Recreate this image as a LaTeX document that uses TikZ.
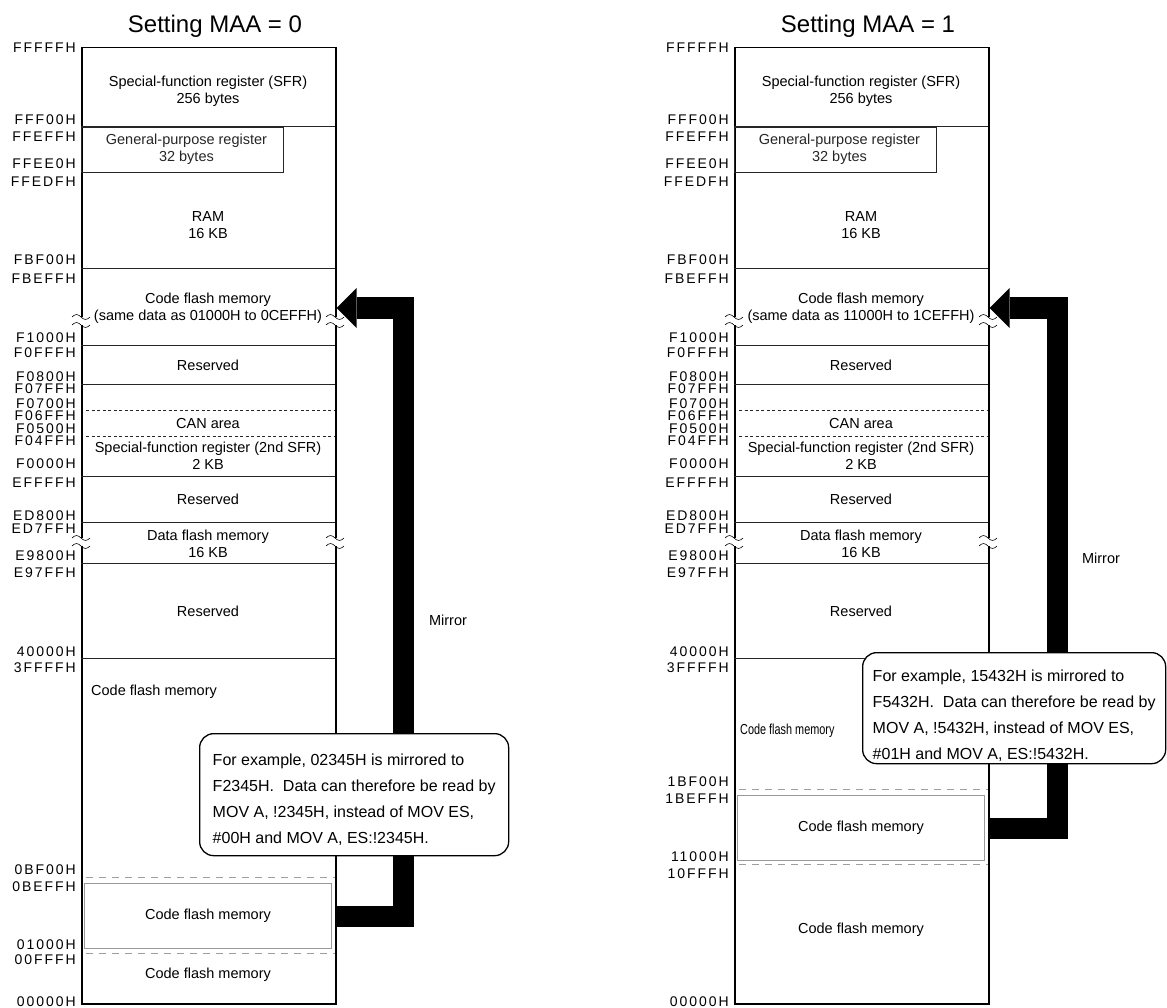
\documentclass[tikz,border=0pt]{standalone}
\usepackage{fontspec}
\setmainfont{Liberation Sans}
\newfontfamily\addrfont[LetterSpace=14]{Liberation Sans} % spaced address digits
\newfontfamily\narrowfont[FakeStretch=0.75]{Liberation Sans} % squeezed label
\usetikzlibrary{arrows.meta}

\begin{document}
\begin{tikzpicture}[x=1pt,y=-1pt]
\tikzstyle{memtxt}=[font=\fontsize{14.5}{17}\selectfont, align=center, inner sep=0pt] % text inside the map
\tikzstyle{addr}=[font=\addrfont\fontsize{14}{14}\selectfont, anchor=east, inner sep=0pt] % addresses left of the map
\tikzstyle{divider}=[black!85, line width=0.9pt] % border between two areas
\tikzstyle{candash}=[black!85, line width=0.8pt, dash pattern=on 3pt off 2.5pt]
\tikzstyle{graydash}=[gray!75, line width=1pt, dash pattern=on 7pt off 6pt]
\tikzstyle{mirrorarrow}=[line width=21pt, line join=miter, -{Triangle[length=20pt, width=40pt, line width=0pt]}]
\tikzstyle{note}=[draw, line width=1.3pt, rounded corners=14pt, fill=white, align=left, inner sep=0pt, font=\fontsize{16}{26}\selectfont, anchor=north west]
\tikzset{brk/.pic={ % break marks on the border
  \fill[white] (-2,-4) rectangle (2,4);
  \draw[line width=0.6pt] (-9,-4) sin (-4.5,-6.5) cos (0,-4) sin (4.5,-1.5) cos (9,-4);
  \draw[line width=0.6pt] (-9,4) sin (-4.5,1.5) cos (0,4) sin (4.5,6.5) cos (9,4);
}}

\useasboundingbox (0,0) rectangle (1167,1008);

% both maps share the upper part
\foreach \s/\dx/\maa/\src in {L/0/0/01000H to 0CEFFH, R/653/1/11000H to 1CEFFH} {
\begin{scope}[xshift=\dx]
\node[font=\fontsize{24}{28}\selectfont, inner sep=0pt] (ttl\s) at (215,26) {Setting MAA = \maa};
\node[draw, line width=1.5pt, minimum width=254, minimum height=956, inner sep=0pt, anchor=north west] (map\s) at (81,47) {};
\foreach \y in {126.7,268,345,384,476.7,522.7,563,658}
  \draw[divider] (81,\y) -- (335,\y);
\draw[candash] (86,410) -- (335,410);
\draw[candash] (86,436) -- (335,436);
\node[draw, divider, memtxt, minimum width=202, minimum height=45, anchor=north west] (gpr\s) at (81,126.7) {\hspace*{8pt}General-purpose register\\\hspace*{8pt}32 bytes};
\node[memtxt] (sfr\s) at (208,91.5) {Special-function register (SFR)\\256 bytes};
\node[memtxt] (ram\s) at (208,225.5) {RAM\\16 KB};
\node[memtxt] (cfm\s) at (208,308) {Code flash memory\\(same data as \src)};
\node[memtxt] (res1\s) at (208,365) {Reserved};
\node[memtxt] (can\s) at (208,424) {CAN area};
\node[memtxt] (sfr2\s) at (208,456) {Special-function register (2nd SFR)\\2 KB};
\node[memtxt] (res2\s) at (208,499) {Reserved};
\node[memtxt] (dfm\s) at (208,543.5) {Data flash memory\\16 KB};
\node[memtxt] (res3\s) at (208,611) {Reserved};
\pic at (81,321) {brk};
\pic at (335,321) {brk};
\pic at (81,542) {brk};
\pic at (335,542) {brk};
\foreach \a/\y in {FFFFFH/48, FFF00H/120, FFEFFH/137, FFEE0H/164, FFEDFH/182, FBF00H/260, FBEFFH/279,
    F1000H/338, F0FFFH/353, F0800H/377, F07FFH/389, F0700H/404, F06FFH/416, F0500H/429, F04FFH/441,
    F0000H/464, EFFFFH/483, ED800H/516, ED7FFH/529, E9800H/556, E97FFH/573, 40000H/652, 3FFFFH/668, 00000H/1002}
  \node[addr] (\a\s) at (76,\y) {\a};
\end{scope}
}

% MAA = 0
\draw[graydash] (86,877) -- (335,877);
\draw[graydash] (86,953) -- (335,953);
\node[draw=gray!80, line width=1pt, memtxt, minimum width=247, minimum height=65, anchor=north west] (cfmirL) at (84,883) {Code flash memory};
\node[memtxt, anchor=west] (cflL) at (91,692) {Code flash memory};
\node[memtxt] (cfbL) at (208,975) {Code flash memory};
\foreach \a/\y in {0BF00H/870, 0BEFFH/887, 01000H/945, 00FFFH/960}
  \node[addr] (\a L) at (76,\y) {\a};

% MAA = 1
\draw[graydash] (739,789) -- (988,789);
\draw[graydash] (739,864) -- (988,864);
\node[draw=gray!80, line width=1pt, memtxt, minimum width=247, minimum height=65, anchor=north west] (cfmirR) at (737,795) {Code flash memory};
\node[memtxt, font=\narrowfont\fontsize{14.5}{17}\selectfont, anchor=west] (cflR) at (740,731) {Code flash memory};
\node[memtxt] (cfbR) at (861,930) {Code flash memory};
\foreach \a/\y in {1BF00H/782, 1BEFFH/799, 11000H/857, 10FFFH/874}
  \node[addr] (\a R) at (729,\y) {\a};

% mirror arrows
\draw[mirrorarrow] (cfmirL.east -| mapL.east) -- ++(66.5,0) |- (cfmL -| mapL.east);
\draw[mirrorarrow] (cfmirR.east -| mapR.east) -- ++(67.5,0) |- (cfmR -| mapR.east);
\node[memtxt] (mirL) at (448,620) {Mirror};
\node[memtxt] (mirR) at (1101,558) {Mirror};

% callouts
\node[note, minimum width=309, text height=109.7, text depth=12.3] (noteL) at (199,733) {For example, 02345H is mirrored to\\F2345H.\ \ Data can therefore be read by\\MOV A, !2345H, instead of MOV ES,\\\#00H and MOV A, ES:!2345H.};
\node[note, minimum width=303, text height=106.7, text depth=4.3] (noteR) at (862,652) {For example, 15432H is mirrored to\\F5432H.\ \ Data can therefore be read by\\MOV A, !5432H, instead of MOV ES,\\\#01H and MOV A, ES:!5432H.};
\end{tikzpicture}
\end{document}
